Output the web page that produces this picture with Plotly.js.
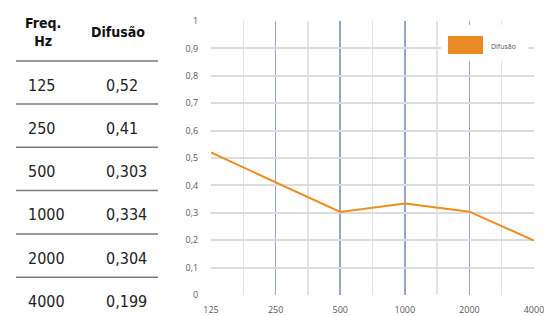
<!DOCTYPE html>
<html><head><meta charset="utf-8">
<script src="https://cdn.plot.ly/plotly-3.0.1.min.js"></script>
<style>html,body{margin:0;padding:0;background:#fff}</style>
</head><body><div id="chart" style="width:544px;height:316px"></div>
<script>
// Data
const frequencies = ['125', '250', '500', '1000', '2000', '4000'];
const diffusion = [0.52, 0.41, 0.303, 0.334, 0.304, 0.199];
const diffusionLabels = ['0,52', '0,41', '0,303', '0,334', '0,304', '0,199'];
const seriesName = 'Difusão';
const tableHeaders = ['Freq.<br>Hz', 'Difusão'];

// Layout helpers (pixel geometry)
const W = 544, H = 316;
const M = {l: 211, r: 10, t: 21, b: 21};
const PW = W - M.l - M.r, PH = H - M.t - M.b;
const px = x => (x - M.l) / PW;
const py = y => (H - M.b - y) / PH;

const xIdx = frequencies.map((_, i) => i);
const tableFont = 'DejaVu Sans Condensed, DejaVu Sans';

const annotations = [];
const shapes = [];
annotations.push({xref:'paper', yref:'paper', x:px(43), y:py(32), text:'<b>'+tableHeaders[0]+'</b>', showarrow:false,
  font:{family:tableFont, size:14, color:'#111'}, xanchor:'center', yanchor:'middle', align:'center'});
annotations.push({xref:'paper', yref:'paper', x:px(118), y:py(32), text:'<b>'+tableHeaders[1]+'</b>', showarrow:false,
  font:{family:tableFont, size:14, color:'#111'}, xanchor:'center', yanchor:'middle'});
const rowStep = 43.3;
shapes.push({type:'line', xref:'paper', yref:'paper', x0:px(16), x1:px(158), y0:py(61), y1:py(61), line:{color:'#7a7a7a', width:1.5}});
frequencies.forEach((f, i) => {
  const yc = 85 + rowStep * i;
  annotations.push({xref:'paper', yref:'paper', x:px(26), y:py(yc), text:f, showarrow:false,
    font:{family:tableFont, size:16, color:'#222'}, xanchor:'left', yanchor:'middle'});
  annotations.push({xref:'paper', yref:'paper', x:px(104), y:py(yc), text:diffusionLabels[i], showarrow:false,
    font:{family:tableFont, size:16, color:'#222'}, xanchor:'left', yanchor:'middle'});
  if (i < frequencies.length - 1) {
    const ys = 104 + rowStep * i;
    shapes.push({type:'line', xref:'paper', yref:'paper', x0:px(16), x1:px(158), y0:py(ys), y1:py(ys), line:{color:'#7a7a7a', width:1.5}});
  }
});
shapes.push({type:'rect', xref:'paper', yref:'paper', x0:px(441), x1:px(528), y0:py(61), y1:py(25), fillcolor:'#fff', line:{width:0}, layer:'above'});
shapes.push({type:'rect', xref:'paper', yref:'paper', x0:px(448), x1:px(483), y0:py(54), y1:py(36), fillcolor:'#ea8a25', line:{width:0}, layer:'above'});
annotations.push({xref:'paper', yref:'paper', x:px(489), y:py(46), text:seriesName, showarrow:false,
  font:{family:'Open Sans, sans-serif', size:7, color:'#555'}, xanchor:'left', yanchor:'middle'});

const trace = {x: xIdx, y: diffusion, type:'scatter', mode:'lines', name: seriesName,
  line:{color:'#ee8c20', width:2}, showlegend:false, cliponaxis:false};

const layout = {
  width: W, height: H, margin: M, paper_bgcolor:'#fff', plot_bgcolor:'#fff',
  separators: ',.', showlegend:false,
  font:{family:'Open Sans, sans-serif', size:9, color:'#595959'},
  xaxis:{range:[0, frequencies.length - 1], tickvals:xIdx, ticktext:frequencies, showgrid:true,
    gridcolor:'#97a6c6', gridwidth:1.5, zeroline:false, showline:false, ticks:'outside', ticklen:6, tickcolor:'rgba(0,0,0,0)',
    tickfont:{size:9, color:'#595959'}, ticklabeloverflow:'allow',
    minor:{dtick:0.5, tick0:0, showgrid:true, gridcolor:'#e3e3e3', gridwidth:1.5}},
  yaxis:{range:[0, 1], dtick:0.1, tick0:0, showgrid:true, gridcolor:'#dcdcdc', gridwidth:2, zeroline:false,
    showline:false, ticks:'outside', ticklen:10, tickcolor:'rgba(0,0,0,0)', tickfont:{size:9, color:'#595959'}},
  shapes: shapes, annotations: annotations
};
Plotly.newPlot('chart', [trace], layout, {displayModeBar:false, staticPlot:true});
</script></body></html>
